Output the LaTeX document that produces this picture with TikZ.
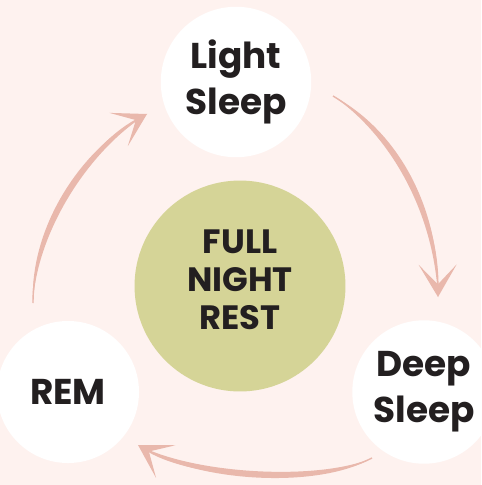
\documentclass[tikz,border=0pt]{standalone}
\usepackage{fontspec}
\setmainfont{Poppins}
\usetikzlibrary{arrows.meta,calc}

\definecolor{bgpink}{HTML}{FEF2EF}
\definecolor{arrowpink}{HTML}{E9B8AC}
\definecolor{restgreen}{HTML}{D5D497}
\definecolor{inkblack}{HTML}{231F20}

\begin{document}
\begin{tikzpicture}[x=0.025cm, y=-0.025cm,
  stage/.style={circle, fill=white, minimum size=#1, inner sep=0pt, align=center,
    text=inkblack, font=\bfseries\fontsize{25.5}{32.5}\selectfont},
  cycle/.style={line width=1pt, arrowpink, -{Stealth[length=23pt, width=27pt, inset=14pt]}}]

\fill[bgpink] (0,0) rectangle (481,485);
\useasboundingbox (0,0) rectangle (481,485);

% the three stages and the middle
\node[stage=107pt] (light) at (236,82) {Light\\Sleep};
\node[stage=102pt] (deep) at (424,392) {Deep\\Sleep};
\node[stage=101pt] (rem) at (68,392) {REM};
\node[circle, fill=restgreen, minimum size=150pt, inner sep=0pt] (rest) at (240,286) {};
\node[align=center, text=inkblack, font=\bfseries\fontsize{24}{27}\selectfont]
  (resttext) at (240,280) {FULL\\NIGHT\\REST};

% curved arrows round the cycle
\foreach \a/\b/\c/\d in {
	{333,96}/{390,130}/{437,205}/{438,297},
	{372,458}/{320,485}/{195,479}/{138,445},
	{33,303}/{33,230}/{85,148}/{147,114}}
{
\fill[arrowpink] (\a) .. controls ($(\b)!3pt!90:(\c)$) and ($(\c)!3pt!-90:(\b)$) .. (\d)
  .. controls ($(\c)!3pt!90:(\b)$) and ($(\b)!3pt!-90:(\c)$) .. (\a);
\draw[cycle] (\a) .. controls (\b) and (\c) .. (\d);
}

\end{tikzpicture}
\end{document}
